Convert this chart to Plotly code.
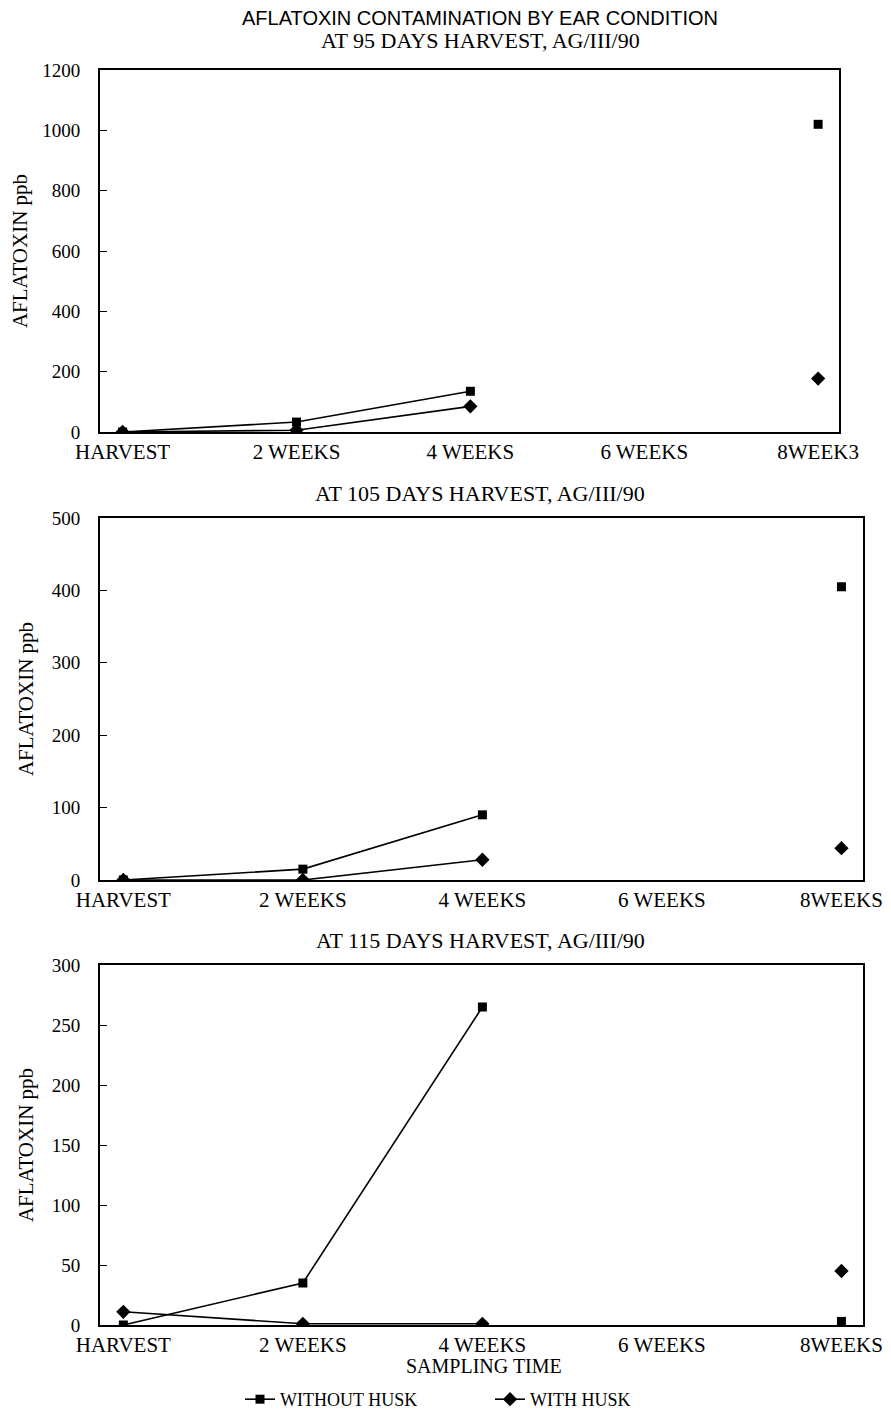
import plotly.graph_objects as go

# ---- data ----
x_pos = [0, 1, 2, 3, 4]
tick_labels_1 = ["HARVEST", "2 WEEKS", "4 WEEKS", "6 WEEKS", "8WEEK3"]
tick_labels_23 = ["HARVEST", "2 WEEKS", "4 WEEKS", "6 WEEKS", "8WEEKS"]

p1_without = [0, 33, 135, None, 1020]
p1_with = [0, 6, 85, None, 177]

p2_without = [0, 15, 90, None, 405]
p2_with = [0, 0, 28, None, 44]

p3_without = [0, 35, 265, None, 3]
p3_with = [11, 1, 1, None, 45]

y_ranges = [[0, 1200], [0, 500], [0, 300]]
y_dticks = [200, 100, 50]

titles = [
    "AT 95 DAYS HARVEST, AG/III/90",
    "AT 105 DAYS HARVEST, AG/III/90",
    "AT 115 DAYS HARVEST, AG/III/90",
]

# page body has an 8px margin, so the figure is placed at (8, 8)
OFF = 8
W, H = 891 - 2 * OFF, 1418 - 2 * OFF
serif = "Liberation Serif, Times New Roman, serif"
sans = "Liberation Sans Narrow, Arial Narrow, Liberation Sans, sans-serif"


def px(v):
    return (v - OFF) / W


def py(v):
    return 1 - (v - OFF) / H


# panel boxes in page pixels (left, right, top, bottom)
boxes = [(100, 839, 70, 432), (100, 863, 518, 880), (100, 863, 965, 1325)]

fig = go.Figure()

series = [(p1_without, p1_with), (p2_without, p2_with), (p3_without, p3_with)]
for i, (wo, wi) in enumerate(series):
    sfx = "" if i == 0 else str(i + 1)
    fig.add_trace(go.Scatter(
        x=x_pos, y=wo, mode="lines+markers", name="WITHOUT HUSK",
        line=dict(color="black", width=1.6),
        marker=dict(symbol="square", size=9, color="black"),
        xaxis="x" + sfx, yaxis="y" + sfx, showlegend=(i == 0), connectgaps=False))
    fig.add_trace(go.Scatter(
        x=x_pos, y=wi, mode="lines+markers", name="WITH HUSK",
        line=dict(color="black", width=1.6),
        marker=dict(symbol="diamond", size=11, color="black"),
        xaxis="x" + sfx, yaxis="y" + sfx, showlegend=(i == 0), connectgaps=False))

layout = dict(
    width=W, height=H,
    margin=dict(l=0, r=0, t=0, b=0, autoexpand=False),
    paper_bgcolor="white", plot_bgcolor="white",
    showlegend=True,
    legend=dict(orientation="h", x=px(240), xanchor="left", y=-8 / H, yanchor="bottom",
                font=dict(family=serif, size=18, color="black"), bgcolor="rgba(0,0,0,0)",
                tracegroupgap=0, entrywidth=205, entrywidthmode="pixels"),
    annotations=[],
)

for i, (l, r, t, b) in enumerate(boxes):
    sfx = "" if i == 0 else str(i + 1)
    xa = "xaxis" + sfx
    ya = "yaxis" + sfx
    labels = tick_labels_1 if i == 0 else tick_labels_23
    layout[xa] = dict(
        domain=[px(l), px(r)], anchor="y" + sfx, range=[-0.13, 4.12],
        tickmode="array", tickvals=x_pos, ticktext=labels, automargin=False,
        showgrid=False, zeroline=False, showline=True, linecolor="black", linewidth=2,
        mirror=True, ticks="", ticklabelstandoff=0, ticklabeloverflow="allow",
        tickfont=dict(family=serif, size=21, color="black"),
    )
    layout[ya] = dict(
        domain=[py(b), py(t)], anchor="x" + sfx, range=y_ranges[i],
        dtick=y_dticks[i], showgrid=False, zeroline=False, showline=True, automargin=False,
        linecolor="black", linewidth=2, mirror=True, ticks="inside", ticklen=7,
        tickcolor="black", ticklabelstandoff=14,
        tickfont=dict(family=serif, size=19, color="black"),
        title=dict(text="AFLATOXIN ppb", font=dict(family=serif, size=21, color="black"), standoff=12),
    )

ann = layout["annotations"]
ann.append(dict(text="AFLATOXIN CONTAMINATION BY EAR CONDITION", x=px(480), y=py(18),
                xref="paper", yref="paper", showarrow=False, xanchor="center", yanchor="middle",
                font=dict(family=sans, size=20, color="black")))
title_y = [41, 493, 940]
for i, ttl in enumerate(titles):
    ann.append(dict(text=ttl, x=px(480), y=py(title_y[i]), xref="paper", yref="paper",
                    showarrow=False, xanchor="center", yanchor="middle",
                    font=dict(family=serif, size=22, color="black")))
ann.append(dict(text="SAMPLING TIME", x=px(484), y=py(1366), xref="paper", yref="paper",
                showarrow=False, xanchor="center", yanchor="middle",
                font=dict(family=serif, size=20, color="black")))

fig.update_layout(**layout)
fig.write_html("out.html")
